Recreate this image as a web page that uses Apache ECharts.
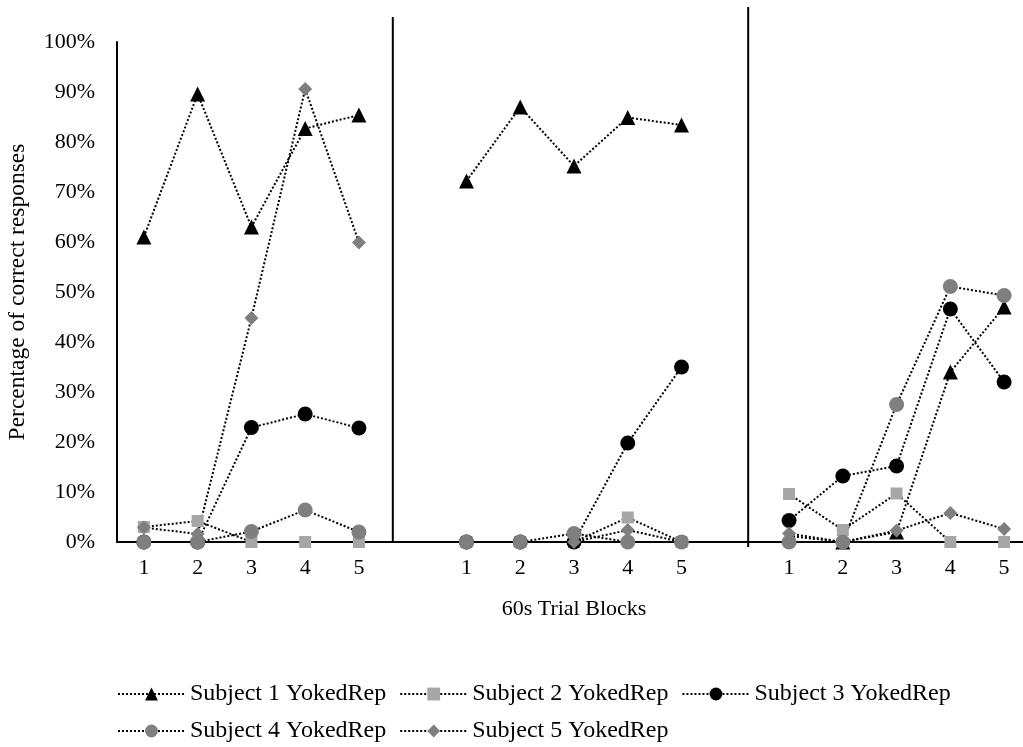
<!DOCTYPE html>
<html>
<head>
<meta charset="utf-8">
<script src="https://cdn.jsdelivr.net/npm/echarts@6/dist/echarts.min.js"></script>
<style>
html,body{margin:0;padding:0;background:#fff;}
#chart{width:1023px;height:747px;}
</style>
</head>
<body>
<div id="chart"></div>
<script>
const categories = ['1','2','3','4','5','','1','2','3','4','5','','1','2','3','4','5'];
const seriesNames = ['Subject 1 YokedRep','Subject 2 YokedRep','Subject 3 YokedRep','Subject 4 YokedRep','Subject 5 YokedRep'];
const subject1 = [61, 89.6, 63, 82.7, 85.4, null, 72.2, 87, 75.2, 84.9, 83.4, null, 1.2, 0, 2, 34, 47];
const subject2 = [3, 4.2, 0, 0, 0, null, 0, 0, 0, 4.9, 0, null, 9.6, 2.4, 9.7, 0, 0];
const subject3 = [0, 0, 22.9, 25.6, 22.8, null, 0, 0, 0, 19.8, 35, null, 4.3, 13.2, 15.2, 46.6, 32];
const subject4 = [0, 0, 2.1, 6.4, 2, null, 0, 0, 1.7, 0, 0, null, 0, 0, 27.5, 51.1, 49.3];
const subject5 = [2.9, 1.6, 44.8, 90.6, 59.9, null, 0, 0, 0, 2.4, 0, null, 1.7, 0, 2.3, 5.8, 2.6];
const yTicks = {min: 0, max: 100, interval: 10};
// phase-change lines: [category position, top %, bottom %]
const phaseLines = [[4.63, 105, 0], [11.24, 107, -1]];

const FONT = '"Liberation Serif", "Times New Roman", serif';
const chart = echarts.init(document.getElementById('chart'));

const styles = [
  {symbol: 'triangle', size: 15, color: '#000000'},
  {symbol: 'rect', size: 12, color: '#a6a6a6'},
  {symbol: 'circle', size: 15, color: '#000000'},
  {symbol: 'circle', size: 15, color: '#7f7f7f'},
  {symbol: 'diamond', size: 14, color: '#7f7f7f'}
];
const allData = [subject1, subject2, subject3, subject4, subject5];

const series = allData.map((d, i) => ({
  name: seriesNames[i],
  type: 'line',
  data: d,
  connectNulls: false,
  symbol: styles[i].symbol,
  symbolSize: styles[i].size,
  showSymbol: true,
  itemStyle: {color: styles[i].color, borderWidth: 0},
  lineStyle: {color: '#000000', width: 2, type: 'dotted'},
  emphasis: {disabled: true},
  z: 3
}));

phaseLines.forEach(p => {
  series.push({
    type: 'line',
    xAxisIndex: 1,
    yAxisIndex: 1,
    data: [[p[0], p[1]], [p[0], p[2]]],
    symbol: 'none',
    clip: false,
    silent: true,
    lineStyle: {color: '#000000', width: 2, type: 'solid'},
    z: 2
  });
});

chart.setOption({
  animation: false,
  backgroundColor: '#ffffff',
  grid: {left: 117, top: 42, width: 914, height: 500, outerBoundsMode: 'none', containLabel: false},
  legend: {
    data: seriesNames,
    left: 112,
    top: 677,
    width: 900,
    itemWidth: 67,
    itemHeight: 16,
    itemGap: 13,
    textStyle: {fontFamily: FONT, fontSize: 24, color: '#000'}
  },
  xAxis: [{
    type: 'category',
    data: categories,
    boundaryGap: true,
    axisLine: {lineStyle: {color: '#000', width: 2}},
    axisTick: {show: false},
    axisLabel: {fontFamily: FONT, fontSize: 22, color: '#000', margin: 15, interval: 0},
    name: '60s Trial Blocks',
    nameLocation: 'middle',
    nameGap: 56,
    nameTextStyle: {fontFamily: FONT, fontSize: 22, color: '#000'},
    splitLine: {show: false}
  }, {
    type: 'value',
    show: false,
    min: -0.5,
    max: 16.5,
    gridIndex: 0
  }],
  yAxis: [{
    type: 'value',
    min: yTicks.min,
    max: yTicks.max,
    interval: yTicks.interval,
    axisLine: {show: true, onZero: false, lineStyle: {color: '#000', width: 2}},
    axisTick: {show: false},
    splitLine: {show: false},
    axisLabel: {fontFamily: FONT, fontSize: 22, color: '#000', margin: 22, formatter: '{value}%'},
    name: 'Percentage of correct responses',
    nameLocation: 'middle',
    nameRotate: 90,
    nameGap: 87,
    nameTextStyle: {fontFamily: FONT, fontSize: 23.5, color: '#000'}
  }, {
    type: 'value',
    show: false,
    min: yTicks.min,
    max: yTicks.max
  }],
  series: series
});
</script>
</body>
</html>
